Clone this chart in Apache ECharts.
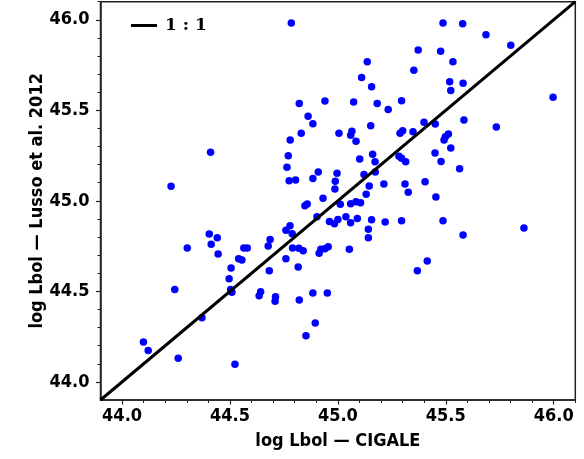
<!DOCTYPE html>
<html>
<head>
<meta charset="utf-8">
<script src="https://cdn.jsdelivr.net/npm/echarts@6/dist/echarts.min.js"></script>
<style>html,body{margin:0;padding:0;background:#fff}#c{width:584px;height:459px}</style>
</head>
<body>
<div id="c"></div>
<script>
// log Lbol from CIGALE (x) and from Lusso et al. 2012 (y)
const lbolCigale = [
44.784,44.821,44.940,44.862,44.884,44.830,45.005,44.779,44.770,44.410,
44.764,44.909,44.996,44.774,44.804,44.884,44.988,44.986,44.227,44.931,
44.847,44.858,45.487,45.578,45.686,45.801,45.372,45.476,45.136,45.533,
45.352,45.110,45.518,45.580,45.523,45.156,45.997,45.073,45.182,45.295,
45.233,45.584,45.399,45.451,45.152,45.734,45.065,45.059,45.084,45.288,
45.300,45.348,45.512,45.498,45.492,45.523,45.161,45.101,45.172,45.283,
45.295,45.314,45.450,45.478,45.564,45.121,45.173,45.145,45.213,45.311,
45.326,45.404,45.131,45.454,45.011,45.059,45.084,45.105,44.903,44.961,
44.984,45.000,45.037,45.059,45.090,45.156,45.219,45.295,45.487,45.580,
45.862,45.141,45.141,45.053,45.414,45.368,44.404,44.441,44.413,44.302,
44.445,44.759,44.778,44.788,44.686,44.677,44.790,44.819,44.839,44.921,
44.940,44.913,44.955,44.564,44.580,44.540,44.555,44.505,44.759,44.816,
44.682,44.496,44.244,44.503,44.509,44.642,44.635,44.711,44.709,44.821,
44.884,44.951,44.370,44.895,44.852,44.099,44.121,44.260,44.523
];
const lbolLusso = [
45.983,45.538,45.551,45.467,45.426,45.374,45.374,45.336,45.249,45.269,
45.185,45.159,45.152,45.111,45.115,45.124,45.108,45.065,45.080,45.014,
44.973,44.982,45.983,45.978,45.917,45.860,45.833,45.827,45.768,45.768,
45.722,45.682,45.658,45.650,45.610,45.630,45.572,45.546,45.538,45.553,
45.505,45.446,45.434,45.424,45.415,45.408,45.384,45.362,45.329,45.373,
45.387,45.382,45.369,45.354,45.336,45.292,45.258,45.231,45.216,45.247,
45.235,45.216,45.264,45.218,45.177,45.146,45.159,45.082,45.093,45.093,
45.047,45.105,45.036,45.021,44.981,44.984,44.995,44.990,44.912,44.886,
44.873,44.897,44.912,44.879,44.902,44.896,44.883,44.890,44.890,44.811,
44.850,44.843,44.796,44.732,44.668,44.614,44.817,44.796,44.760,44.739,
44.706,44.837,44.863,44.818,44.787,44.750,44.739,44.738,44.724,44.732,
44.736,44.710,44.747,44.739,44.739,44.680,44.673,44.629,44.680,44.634,
44.614,44.570,44.511,44.511,44.495,44.498,44.476,44.470,44.445,44.452,
44.491,44.491,44.354,44.325,44.255,44.220,44.174,44.130,44.097
];
const axisMin = 43.9, axisMax = 46.1;
const oneToOne = [[43.9, 43.9], [46.1, 46.1]];
const majorTicks = [44.0, 44.5, 45.0, 45.5, 46.0];
const minorTicks = [];
for (let i = 440; i <= 461; i++) minorTicks.push(i / 10);

const points = lbolCigale.map((x, i) => [x, lbolLusso[i]]);
const FONT = '"DejaVu Sans Condensed","DejaVu Sans",sans-serif';

const chart = echarts.init(document.getElementById('c'), null, {renderer: 'canvas'});
const axisCommon = () => ({
  type: 'value', min: axisMin, max: axisMax, gridIndex: 0,
  scale: true, splitLine: {show: false},
});
chart.setOption({
  animation: false,
  backgroundColor: '#fff',
  grid: {left: 100.5, right: 8.7, top: 1.7, bottom: 59, show: true, borderColor: '#222', borderWidth: 1.5, containLabel: false},
  legend: {
    show: true, left: 126, top: 12, icon: 'rect', itemWidth: 26, itemHeight: 3,
    data: [{name: '1 : 1', itemStyle: {color: '#000'}}],
    textStyle: {fontFamily: '"DejaVu Serif","Liberation Serif",serif', fontWeight: 'bold', fontSize: 17, color: '#000', padding: [0, 0, 0, 3]}
  },
  xAxis: [
    Object.assign(axisCommon(), {
      position: 'bottom',
      name: 'log Lbol \u2014 CIGALE', nameLocation: 'middle', nameGap: 32, nameMoveOverlap: false,
      nameTextStyle: {fontFamily: FONT, fontWeight: 'bold', fontSize: 18, color: '#000'},
      axisLine: {show: true, lineStyle: {color: '#222', width: 1.5}},
      axisTick: {show: true, length: 4.5, inside: false, customValues: majorTicks, lineStyle: {color: '#222', width: 1.2}},
      axisLabel: {show: true, customValues: majorTicks, margin: 7, formatter: v => v.toFixed(1), fontFamily: FONT, fontWeight: 'bold', fontSize: 18, color: '#000'}
    }),
    Object.assign(axisCommon(), {
      position: 'bottom',
      axisLine: {show: false},
      axisTick: {show: true, length: 3, customValues: minorTicks, lineStyle: {color: '#222', width: 1}},
      axisLabel: {show: false}
    })
  ],
  yAxis: [
    Object.assign(axisCommon(), {
      position: 'left',
      name: 'log Lbol \u2014 Lusso et al. 2012', nameLocation: 'middle', nameGap: 54, nameMoveOverlap: false,
      nameTextStyle: {fontFamily: FONT, fontWeight: 'bold', fontSize: 18, color: '#000'},
      axisLine: {show: true, lineStyle: {color: '#222', width: 1.5}},
      axisTick: {show: true, length: 4.5, customValues: majorTicks, lineStyle: {color: '#222', width: 1.2}},
      axisLabel: {show: true, customValues: majorTicks, margin: 11, formatter: v => v.toFixed(1), fontFamily: FONT, fontWeight: 'bold', fontSize: 18, color: '#000'}
    }),
    Object.assign(axisCommon(), {
      position: 'left',
      axisLine: {show: false},
      axisTick: {show: true, length: 3, customValues: minorTicks, lineStyle: {color: '#222', width: 1}},
      axisLabel: {show: false}
    })
  ],
  series: [
    {
      type: 'scatter', name: 'data', xAxisIndex: 0, yAxisIndex: 0,
      data: points, symbol: 'circle', symbolSize: 7.5,
      itemStyle: {color: '#0000ff', opacity: 1}, z: 2
    },
    {
      type: 'line', name: '1 : 1', xAxisIndex: 0, yAxisIndex: 0,
      data: oneToOne, symbol: 'none', lineStyle: {color: '#000', width: 3}, z: 3,
      itemStyle: {color: '#000'}
    }
  ]
});
</script>
</body>
</html>
